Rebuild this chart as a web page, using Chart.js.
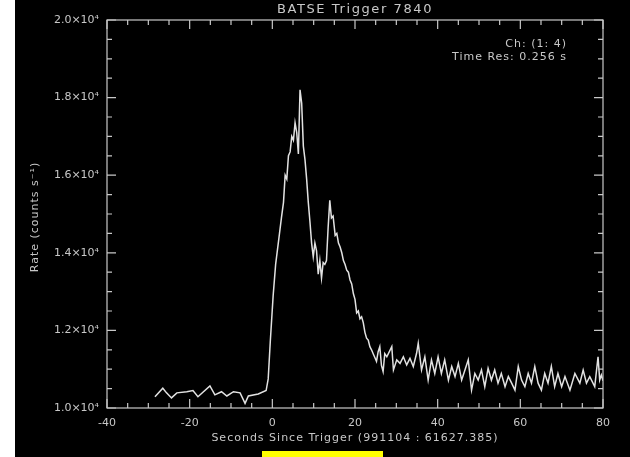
<!DOCTYPE html>
<html>
<head>
<meta charset="utf-8">
<script src="https://cdn.jsdelivr.net/npm/chart.js@4"></script>
<style>
  body { margin: 0; background: #fff; }
  #wrap { position: relative; width: 630px; height: 457px; }
  #chart { position: absolute; left: 0; top: 0; background: linear-gradient(to right, #fff 15px, #000 15px); }
  #mark { position: absolute; left: 262px; top: 451px; width: 121px; height: 6px; background: #ffff00; }
</style>
</head>
<body>
<div id="wrap">
  <canvas id="chart" width="630" height="457"></canvas>
  <div id="mark"></div>
</div>
<script>
// seconds since trigger
const times = [
  -28.4, -26.5, -25.6, -24.4, -23.1, -20.7, -19.2, -18.0, -15.1, -13.9, -12.3, -11.0, -9.4, -7.8, -6.6, -5.8, -3.4, -1.5,
  -1.0, -0.5, 0.2, 0.8, 1.5, 2.2, 2.7, 3.1, 3.5, 3.9, 4.3, 4.7, 5.1, 5.5, 5.9, 6.3, 6.7, 7.1, 7.5, 7.9, 8.3, 8.7, 9.1, 9.5, 9.9,
  10.3, 10.7, 11.1, 11.5, 11.9, 12.3, 12.7, 13.1, 13.5, 13.9, 14.3, 14.7, 15.2, 15.6, 16.0, 16.4, 16.8, 17.2, 17.6, 18.0,
  18.4, 18.8, 19.2, 19.6, 20.0, 20.4, 20.8, 21.2, 21.6, 22.0, 22.4, 22.8, 23.2, 23.6, 24.0, 24.4, 24.8, 25.2, 25.6, 26.0,
  26.4, 26.8, 27.2, 27.7, 28.9, 29.3, 30.1, 30.9, 31.7, 32.5, 33.3, 34.1, 34.9, 35.3, 36.1, 36.9, 37.7, 38.5, 39.3, 40.1,
  40.9, 41.7, 42.6, 43.4, 44.2, 45.0, 45.8, 46.6, 47.4, 48.2, 49.0, 49.8, 50.6, 51.4, 52.2, 53.0, 53.8, 54.6, 55.4, 56.3,
  57.1, 57.9, 58.7, 59.5, 60.3, 61.1, 61.9, 62.7, 63.5, 64.3, 65.1, 65.9, 66.7, 67.5, 68.3, 69.1, 70.0, 70.8, 72.0, 73.2,
  74.4, 75.2, 76.0, 76.8, 78.0, 78.8, 79.2, 79.6, 80.0
];

// rate, counts per second
const rates = [
  10290, 10510, 10390, 10260, 10390, 10420, 10450, 10290, 10570, 10340, 10420, 10310, 10420, 10390, 10120, 10310, 10360, 10450,
  10750, 11700, 12900, 13700, 14300, 14900, 15300, 16000, 15900, 16500, 16600, 17000, 16900, 17350, 17100, 16550, 18200, 17850, 16750, 16400, 15900, 15300, 14800, 14250, 13900,
  14250, 14050, 13450, 13800, 13350, 13750, 13700, 13800, 14650, 15350, 14900, 14950, 14450, 14500, 14250, 14150, 14000, 13800, 13700, 13550,
  13500, 13300, 13200, 12950, 12800, 12450, 12500, 12300, 12350, 12200, 11950, 11800, 11750, 11580, 11500, 11400, 11300, 11200, 11450, 11580,
  11100, 10940, 11400, 11320, 11580, 10980, 11240, 11150, 11320, 11110, 11280, 11070, 11410, 11670, 10980, 11320, 10720, 11240, 10890, 11320,
  10890, 11240, 10720, 11070, 10810, 11150, 10720, 10980, 11240, 10460, 10890, 10720, 10980, 10550, 11020, 10720, 10980, 10640, 10890, 10550,
  10810, 10640, 10460, 11070, 10720, 10550, 10890, 10640, 11070, 10640, 10460, 10890, 10640, 11070, 10550, 10890, 10550, 10810, 10460, 10890,
  10640, 10980, 10640, 10810, 10550, 11320, 10720, 10850, 10700
];

const xMajor = [-40, -20, 0, 20, 40, 60, 80];
const yMajor = [10000, 12000, 14000, 16000, 18000, 20000];
const yLabels = ['1.0×10⁴', '1.2×10⁴', '1.4×10⁴', '1.6×10⁴', '1.8×10⁴', '2.0×10⁴'];

const titleText = 'BATSE Trigger 7840';
const xTitle = 'Seconds Since Trigger (991104 : 61627.385)';
const yTitle = 'Rate (counts s⁻¹)';
const notes = ['Ch: (1: 4)', 'Time Res: 0.256 s'];

const ink = '#c8c8c8';
const fontFam = '"DejaVu Sans", sans-serif';

const idlFrame = {
  id: 'idlFrame',
  afterDraw(chart) {
    const { ctx, chartArea: a, scales: { x, y } } = chart;
    ctx.save();
    ctx.strokeStyle = ink;
    ctx.lineWidth = 1.2;
    ctx.strokeRect(a.left, a.top, a.right - a.left, a.bottom - a.top);

    // inward ticks, major + minor
    ctx.beginPath();
    for (let v = -40; v <= 80; v += 5) {
      const px = x.getPixelForValue(v);
      const len = v % 20 === 0 ? 9 : 5;
      ctx.moveTo(px, a.bottom); ctx.lineTo(px, a.bottom - len);
      ctx.moveTo(px, a.top); ctx.lineTo(px, a.top + len);
    }
    for (let v = 10000; v <= 20000; v += 500) {
      const py = y.getPixelForValue(v);
      const len = v % 2000 === 0 ? 9 : 5;
      ctx.moveTo(a.left, py); ctx.lineTo(a.left + len, py);
      ctx.moveTo(a.right, py); ctx.lineTo(a.right - len, py);
    }
    ctx.stroke();

    ctx.fillStyle = ink;
    ctx.textAlign = 'center';
    ctx.textBaseline = 'middle';
    ctx.font = '13px ' + fontFam;
    ctx.letterSpacing = '1.6px';
    ctx.fillText(titleText, (a.left + a.right) / 2, 10);

    ctx.font = '11px ' + fontFam;
    ctx.letterSpacing = '1px';
    ctx.fillText(xTitle, (a.left + a.right) / 2, 438);

    ctx.save();
    ctx.translate(35, (a.top + a.bottom) / 2 + 3);
    ctx.rotate(-Math.PI / 2);
    ctx.fillText(yTitle, 0, 0);
    ctx.restore();

    ctx.textAlign = 'right';
    ctx.fillText(notes[0], 567, 44);
    ctx.fillText(notes[1], 567, 57);
    ctx.restore();
  }
};

new Chart(document.getElementById('chart'), {
  type: 'line',
  data: {
    datasets: [{
      data: times.map((t, i) => ({ x: t, y: rates[i] })),
      borderColor: '#e2e2e2',
      borderWidth: 1.5,
      pointRadius: 0,
      tension: 0,
      fill: false
    }]
  },
  options: {
    responsive: false,
    animation: false,
    devicePixelRatio: 1,
    layout: { padding: { top: 20, right: 27, left: 0, bottom: 0 } },
    plugins: { legend: { display: false }, tooltip: { enabled: false } },
    scales: {
      x: {
        type: 'linear',
        min: -40,
        max: 80,
        grid: { display: false, drawTicks: false },
        border: { display: false },
        afterFit: s => { s.height = 49; },
        afterBuildTicks: s => { s.ticks = xMajor.map(v => ({ value: v })); },
        ticks: { color: ink, font: { family: fontFam, size: 11 }, padding: 9, maxRotation: 0, autoSkip: false }
      },
      y: {
        type: 'linear',
        min: 10000,
        max: 20000,
        grid: { display: false, drawTicks: false },
        border: { display: false },
        afterFit: s => { s.width = 107; },
        afterBuildTicks: s => { s.ticks = yMajor.map(v => ({ value: v })); },
        ticks: {
          color: ink,
          font: { family: fontFam, size: 11 },
          padding: 8,
          autoSkip: false,
          callback: v => yLabels[yMajor.indexOf(v)]
        }
      }
    }
  },
  plugins: [idlFrame]
});
</script>
</body>
</html>
